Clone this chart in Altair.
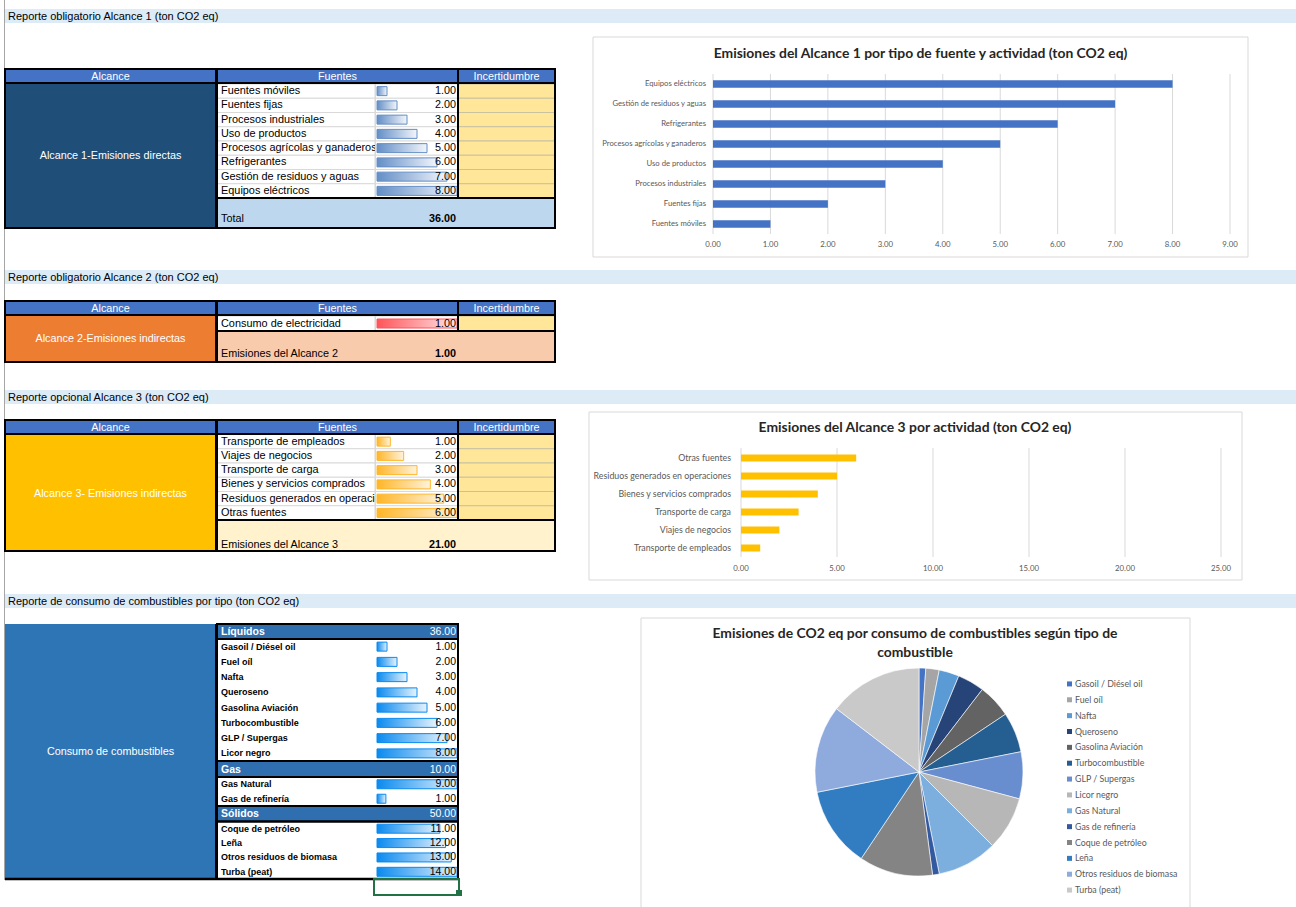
import altair as alt
import pandas as pd

# ---------------- data ----------------
secciones = [
    "Reporte obligatorio Alcance 1 (ton CO2 eq)",
    "Reporte obligatorio Alcance 2 (ton CO2 eq)",
    "Reporte opcional Alcance 3 (ton CO2 eq)",
    "Reporte de consumo de combustibles por tipo (ton CO2 eq)",
]
encabezados = ["Alcance", "Fuentes", "Incertidumbre"]

a1_alcance = "Alcance 1-Emisiones directas"
a1_fuentes = ["Fuentes móviles", "Fuentes fijas", "Procesos industriales", "Uso de productos",
              "Procesos agrícolas y ganaderos", "Refrigerantes", "Gestión de residuos y aguas",
              "Equipos eléctricos"]
a1_valores = [1.0, 2.0, 3.0, 4.0, 5.0, 6.0, 7.0, 8.0]

a2_alcance = "Alcance 2-Emisiones indirectas"
a2_fuentes = ["Consumo de electricidad"]
a2_valores = [1.0]

a3_alcance = "Alcance 3- Emisiones indirectas"
a3_fuentes = ["Transporte de empleados", "Viajes de negocios", "Transporte de carga",
              "Bienes y servicios comprados", "Residuos generados en operaciones", "Otras fuentes"]
a3_valores = [1.0, 2.0, 3.0, 4.0, 5.0, 6.0]

comb_alcance = "Consumo de combustibles"
grupos = ["Líquidos", "Gas", "Sólidos"]
liquidos = ["Gasoil / Diésel oil", "Fuel oíl", "Nafta", "Queroseno", "Gasolina Aviación",
            "Turbocombustible", "GLP / Supergas", "Licor negro"]
liquidos_val = [1.0, 2.0, 3.0, 4.0, 5.0, 6.0, 7.0, 8.0]
gas = ["Gas Natural", "Gas de refinería"]
gas_val = [9.0, 1.0]
solidos = ["Coque de petróleo", "Leña", "Otros residuos de biomasa", "Turba (peat)"]
solidos_val = [11.0, 12.0, 13.0, 14.0]

titulo1 = "Emisiones del Alcance 1 por tipo de fuente y actividad (ton CO2 eq)"
ticks1 = [0, 1, 2, 3, 4, 5, 6, 7, 8, 9]
titulo3 = "Emisiones del Alcance 3 por actividad (ton CO2 eq)"
ticks3 = [0, 5, 10, 15, 20, 25]
titulo_pie = ["Emisiones de CO2 eq por consumo de combustibles según tipo de", "combustible"]
pie_colores = ["#4472C4", "#A5A5A5", "#5B9BD5", "#264478", "#636363", "#255E91", "#698ED0",
               "#B7B7B7", "#7CAFDD", "#335AA1", "#848484", "#327DC2", "#8FAADC", "#C9C9C9"]

# ---------------- helpers ----------------
TF = "Liberation Sans"
CF = "Lato"
ONE = pd.DataFrame({"k": [0]})


def box(x1, x2, y1, y2, fill=None, stroke=None, sw=1.0):
    props = {}
    if fill is None:
        props["fill"] = "white"
        props["fillOpacity"] = 0
    else:
        props["fill"] = fill
    if stroke is not None:
        props["stroke"] = stroke
        props["strokeWidth"] = sw
    return alt.Chart(ONE).mark_rect(**props).encode(
        x=alt.value(x1), x2=alt.value(x2), y=alt.value(y1), y2=alt.value(y2))


def line(x1, x2, y1, y2, color, sw=1.0):
    return alt.Chart(ONE).mark_rule(color=color, strokeWidth=sw).encode(
        x=alt.value(x1), x2=alt.value(x2), y=alt.value(y1), y2=alt.value(y2))


def label(s, x, y, size=10.8, color="black", align="left", weight="normal", font=TF):
    return alt.Chart(ONE).mark_text(text=s, align=align, baseline="middle", fontSize=size,
                                    font=font, fontWeight=weight, color=color).encode(
        x=alt.value(x), y=alt.value(y))


def grad(c, end="#FFFFFF"):
    return alt.LinearGradient(gradient="linear", x1=0, x2=1, y1=0, y2=0,
                              stops=[alt.GradientStop(color=c, offset=0),
                                     alt.GradientStop(color=end, offset=1)])


def rows(labels, values, y0, y1, vmax, color, end, size=10.9, weight="normal", vsize=10.8,
         seps=True, incert=True, bar_h=9):
    df = pd.DataFrame({"fuente": labels, "valor": values})
    ys = alt.Scale(type="band", domain=labels, range=[y0, y1], paddingInner=0, paddingOuter=0)
    Y = alt.Y("fuente:N", scale=ys, axis=None)
    xs = alt.Scale(domain=[0, vmax], range=[377, 457], nice=False, zero=True)
    base = alt.Chart(df)
    sc = "#D9D9D9" if seps else "white"
    layers = [
        base.mark_rect(fill="white", stroke=sc, strokeWidth=1).encode(
            y=Y, x=alt.value(217), x2=alt.value(375)),
        base.mark_text(align="left", baseline="middle", font=TF, fontSize=size,
                       fontWeight=weight, color="black").encode(
            y=Y, x=alt.value(221), text="fuente:N"),
        base.mark_rect(fill="white", stroke=sc, strokeWidth=1).encode(
            y=Y, x=alt.value(375.5), x2=alt.value(458)),
    ]
    if incert:
        layers.append(base.mark_rect(fill="#FFE699", stroke="#C9C2A0", strokeWidth=1).encode(
            y=Y, x=alt.value(458), x2=alt.value(555)))
    layers += [
        base.mark_bar(fill=grad(color, end), stroke=color, strokeWidth=1, size=bar_h).encode(
            y=Y, x=alt.X("valor:Q", scale=xs, axis=None)),
        base.mark_text(align="right", baseline="middle", font=TF, fontSize=vsize,
                       color="black").encode(
            y=Y, x=alt.value(456), text=alt.Text("valor:Q", format=".2f")),
    ]
    return alt.layer(*layers)


def header(y0, y1):
    return [
        box(5, 216, y0, y1, "#4472C4", "black", 2),
        box(217, 458, y0, y1, "#4472C4", "black", 2),
        box(458, 555, y0, y1, "#4472C4", "black", 2),
        label(encabezados[0], 110.5, (y0 + y1) / 2 + 0.5, color="white", align="center"),
        label(encabezados[1], 337.5, (y0 + y1) / 2 + 0.5, color="white", align="center"),
        label(encabezados[2], 506.5, (y0 + y1) / 2 + 0.5, color="white", align="center"),
    ]


def hbar(cats, vals, ticks, xr, yr, color, lab_x, lab_size, tick_y, grid_y, bar_size, tick_size):
    order = list(reversed(cats))
    df = pd.DataFrame({"cat": cats, "val": vals})
    tdf = pd.DataFrame({"t": ticks})
    xs = alt.Scale(domain=[ticks[0], ticks[-1]], range=xr, nice=False, zero=True)
    ys = alt.Scale(type="band", domain=order, range=yr, paddingInner=0, paddingOuter=0)
    grid = alt.Chart(tdf).mark_rule(color="#D9D9D9", strokeWidth=1).encode(
        x=alt.X("t:Q", scale=xs, axis=None), y=alt.value(grid_y[0]), y2=alt.value(grid_y[1]))
    tl = alt.Chart(tdf).mark_text(font=CF, fontSize=tick_size, color="#595959",
                                  baseline="middle").encode(
        x=alt.X("t:Q", scale=xs, axis=None), y=alt.value(tick_y),
        text=alt.Text("t:Q", format=".2f"))
    bars = alt.Chart(df).mark_bar(color=color, size=bar_size).encode(
        x=alt.X("val:Q", scale=xs, axis=None), y=alt.Y("cat:N", scale=ys, axis=None))
    labs = alt.Chart(df).mark_text(font=CF, fontSize=lab_size, color="#595959", align="right",
                                   baseline="middle").encode(
        x=alt.value(lab_x), y=alt.Y("cat:N", scale=ys, axis=None), text="cat:N")
    return alt.layer(grid, tl, bars, labs)


L = []

# ---------- page background elements ----------
L.append(line(4.5, 4.5, 0, 880, "#A6A6A6", 1))
for s, (y0, y1) in zip(secciones, [(9, 23), (270, 284), (390, 404), (594, 608)]):
    L.append(box(5, 1296, y0, y1, "#DDEBF7"))
    L.append(label(s, 8, (y0 + y1) / 2 + 0.5, size=11))

# ---------- Table 1 ----------
L.append(box(5, 216, 83, 228, "#1F4E79"))
L.append(box(217, 555, 198, 228, "#BDD7EE"))
L.append(rows(a1_fuentes, a1_valores, 84, 198, max(a1_valores), "#638EC6", "#F3F6FB"))
L += header(69, 83)
L.append(box(5, 216, 83, 228, None, "black", 2))
L.append(box(217, 458, 83, 198, None, "black", 2))
L.append(box(458, 555, 83, 198, None, "black", 2))
L.append(box(217, 555, 198, 228, None, "black", 2))
L.append(label(a1_alcance, 110.5, 155.5, color="white", align="center"))
L.append(label("Total", 221, 219))
L.append(label(f"{sum(a1_valores):.2f}", 456, 219, weight="bold", align="right"))

# ---------- Table 2 ----------
L.append(box(5, 216, 315, 362, "#ED7D31"))
L.append(box(217, 555, 331, 362, "#F8CBAD"))
L.append(rows(a2_fuentes, a2_valores, 316, 331, max(a2_valores), "#FF555A", "#FFE5E6"))
L += header(301, 315)
L.append(box(5, 216, 315, 362, None, "black", 2))
L.append(box(217, 458, 315, 331, None, "black", 2))
L.append(box(458, 555, 315, 331, None, "black", 2))
L.append(box(217, 555, 331, 362, None, "black", 2))
L.append(label(a2_alcance, 110.5, 338.5, color="white", align="center"))
L.append(label("Emisiones del Alcance 2", 221, 353.5))
L.append(label(f"{sum(a2_valores):.2f}", 456, 353.5, weight="bold", align="right"))

# ---------- Table 3 ----------
L.append(box(5, 216, 434, 551, "#FFC000"))
L.append(box(217, 555, 520, 551, "#FFF2CC"))
L.append(rows(a3_fuentes, a3_valores, 434.5, 520, max(a3_valores), "#FFB628", "#FFF3DD"))
L += header(420, 434)
L.append(box(5, 216, 434, 551, None, "black", 2))
L.append(box(217, 458, 434, 520, None, "black", 2))
L.append(box(458, 555, 434, 520, None, "black", 2))
L.append(box(217, 555, 520, 551, None, "black", 2))
L.append(label(a3_alcance, 110.5, 493.5, color="white", align="center"))
L.append(label("Emisiones del Alcance 3", 221, 544.5))
L.append(label(f"{sum(a3_valores):.2f}", 456, 544.5, weight="bold", align="right"))

# ---------- Table 4 (combustibles) ----------
L.append(box(5, 216, 624, 879, "#2E75B6"))
L.append(label(comb_alcance, 110.5, 751.5, color="white", align="center"))
grp_specs = [
    (grupos[0], liquidos, liquidos_val, 624, 639, 761),
    (grupos[1], gas, gas_val, 761, 777, 806),
    (grupos[2], solidos, solidos_val, 806, 821.5, 879),
]
for gname, names, vals, hy0, ry0, ry1 in grp_specs:
    L.append(rows(names, vals, ry0, ry1, max(vals), "#0A8AEF", "#E6F3FD", size=9,
                  weight="bold", vsize=10.5, seps=False, incert=False, bar_h=9))
    L.append(box(217, 458, hy0, ry0, "#2F6FB0", "black", 2))
    L.append(label(gname, 221, (hy0 + ry0) / 2 + 0.5, color="white", weight="bold", size=10.5))
    L.append(label(f"{sum(vals):.2f}", 456, (hy0 + ry0) / 2 + 0.5, color="white", align="right",
                   size=10.5))
    L.append(box(217, 458, ry0, ry1, None, "black", 2))
L.append(line(216, 216, 624, 879, "black", 2))
L.append(line(5, 459, 879, 879, "black", 2.5))
L.append(box(374, 459, 879, 895, None, "#217346", 2))
L.append(box(456, 462, 890, 896, "#217346"))

# ---------- Chart 1 ----------
L.append(box(593, 1248, 37, 257, "white", "#D9D9D9", 1))
L.append(label(titulo1, 920.5, 53.5, size=13.9, weight="bold", font=CF, color="#262626",
               align="center"))
L.append(hbar(a1_fuentes, a1_valores, ticks1, [713, 1230], [74, 234], "#4472C4", 706, 7.7,
              245, (74, 234), 7.5, 7.8))

# ---------- Chart 3 ----------
L.append(box(589, 1242, 412, 580, "white", "#D9D9D9", 1))
L.append(label(titulo3, 915, 428, size=13.9, weight="bold", font=CF, color="#262626",
               align="center"))
L.append(hbar(a3_fuentes, a3_valores, ticks3, [741, 1221], [449, 557], "#FFC000", 731, 8.8,
              569, (448, 557), 7, 7.8))

# ---------- Pie ----------
L.append(box(641, 1190, 618, 912, "white", "#D9D9D9", 1))
L.append(label(titulo_pie[0], 915, 633.5, size=13.9, weight="bold", font=CF, color="#262626",
               align="center"))
L.append(label(titulo_pie[1], 915, 652.5, size=13.9, weight="bold", font=CF, color="#262626",
               align="center"))
comb_nombres = liquidos + gas + solidos
comb_valores = liquidos_val + gas_val + solidos_val
pdf = pd.DataFrame({"comb": comb_nombres, "val": comb_valores,
                    "orden": list(range(len(comb_nombres)))})
cs = alt.Scale(domain=comb_nombres, range=pie_colores)
ls = alt.Scale(type="band", domain=comb_nombres, range=[676, 898], paddingInner=0, paddingOuter=0)
pie = alt.Chart(pdf).mark_arc(radius=104, stroke="white", strokeWidth=0.6).encode(
    theta=alt.Theta("val:Q", stack=True),
    color=alt.Color("comb:N", scale=cs, legend=None),
    order=alt.Order("orden:Q"),
    x=alt.value(919), y=alt.value(772))
sq = alt.Chart(pdf).mark_square(size=25, opacity=1).encode(
    x=alt.value(1069.5), y=alt.Y("comb:N", scale=ls, axis=None),
    color=alt.Color("comb:N", scale=cs, legend=None))
lt = alt.Chart(pdf).mark_text(align="left", baseline="middle", font=CF, fontSize=8.8,
                              color="#595959").encode(
    x=alt.value(1075), y=alt.Y("comb:N", scale=ls, axis=None), text="comb:N")
L.append(alt.layer(pie, sq, lt))

chart = alt.layer(*L).resolve_scale(
    x="independent", y="independent", color="independent"
).properties(
    width=1296, height=907, padding=0, autosize=alt.AutoSizeParams(type="none"),
    background="white"
).configure_view(stroke=None)

chart.save("out.html", embed_options={"renderer": "svg", "actions": False})
